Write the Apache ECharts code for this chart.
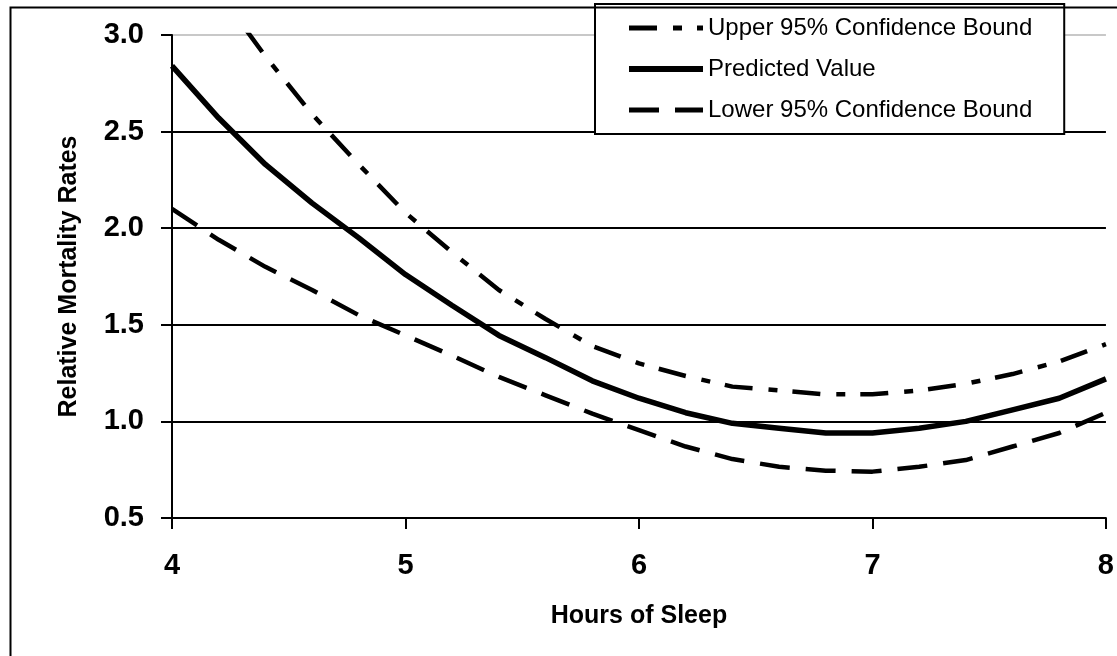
<!DOCTYPE html>
<html>
<head>
<meta charset="utf-8">
<script src="https://cdn.jsdelivr.net/npm/echarts@6/dist/echarts.min.js"></script>
<style>
  html, body { margin: 0; padding: 0; background: #fff; }
  #chart { width: 1117px; height: 656px; }
</style>
</head>
<body>
<div id="chart"></div>
<script>
// hours of sleep, sampled every 0.2 h
var hours = [4.0, 4.2, 4.4, 4.6, 4.8, 5.0, 5.2, 5.4, 5.6, 5.8, 6.0, 6.2, 6.4, 6.6, 6.8, 7.0, 7.2, 7.4, 7.6, 7.8, 8.0];
var upperBound = [3.62, 3.22, 2.89, 2.59, 2.33, 2.08, 1.875, 1.68, 1.53, 1.39, 1.30, 1.235, 1.18, 1.16, 1.14, 1.14, 1.16, 1.195, 1.245, 1.31, 1.40];
var predicted = [2.84, 2.57, 2.33, 2.13, 1.95, 1.76, 1.60, 1.445, 1.33, 1.21, 1.12, 1.045, 0.99, 0.965, 0.94, 0.94, 0.965, 1.00, 1.06, 1.12, 1.22];
var lowerBound = [2.10, 1.94, 1.80, 1.68, 1.55, 1.445, 1.34, 1.23, 1.135, 1.04, 0.955, 0.87, 0.805, 0.765, 0.745, 0.74, 0.765, 0.80, 0.87, 0.94, 1.045];
var seriesNames = ['Upper 95% Confidence Bound', 'Predicted Value', 'Lower 95% Confidence Bound'];
var xTicks = [4, 5, 6, 7, 8];
var yTicks = [0.5, 1.0, 1.5, 2.0, 2.5, 3.0];

var font = '"Liberation Sans", Arial, sans-serif';
var dashUpper = [28, 16, 9, 15];
var dashLower = [30, 16];

function pairs(values) {
    return hours.map(function (h, i) { return [h, values[i]]; });
}

var chart = echarts.init(document.getElementById('chart'));

var option = {
    backgroundColor: '#fff',
    animation: false,
    grid: { left: 172, right: 6, top: 35, bottom: 138, containLabel: false },
    graphic: [{
        type: 'rect',
        left: 8, top: 5,
        shape: { width: 1300, height: 900 },
        style: { fill: 'none', stroke: '#000', lineWidth: 2 },
        z: 100
    }],
    legend: {
        data: [
            { name: seriesNames[0], lineStyle: { width: 5, type: dashUpper, color: '#000' } },
            { name: seriesNames[1], lineStyle: { width: 6, type: 'solid', color: '#000' } },
            { name: seriesNames[2], lineStyle: { width: 5, type: dashLower, color: '#000' } }
        ],
        orient: 'vertical',
        left: 595, top: 4,
        padding: [12, 32, 12, 31],
        itemWidth: 74,
        itemHeight: 20,
        itemGap: 17,
        backgroundColor: '#fff',
        borderColor: '#000',
        borderWidth: 2,
        itemStyle: { opacity: 0 },
        textStyle: { fontFamily: font, fontSize: 24, lineHeight: 24, color: '#000' }
    },
    xAxis: {
        type: 'value',
        min: xTicks[0], max: xTicks[xTicks.length - 1], interval: 1,
        name: 'Hours of Sleep',
        nameLocation: 'middle',
        nameGap: 86,
        nameTextStyle: { fontFamily: font, fontSize: 25, fontWeight: 'bold', color: '#000' },
        axisLine: { lineStyle: { color: '#000', width: 2 } },
        axisTick: { inside: false, length: 11, lineStyle: { color: '#000', width: 2 } },
        axisLabel: { margin: 33, fontFamily: font, fontSize: 29, fontWeight: 'bold', color: '#000' },
        splitLine: { show: false }
    },
    yAxis: {
        type: 'value',
        min: yTicks[0], max: yTicks[yTicks.length - 1], interval: 0.5,
        name: 'Relative Mortality Rates',
        nameLocation: 'middle',
        nameGap: 90,
        nameTextStyle: { fontFamily: font, fontSize: 25, fontWeight: 'bold', color: '#000' },
        axisLine: { show: true, lineStyle: { color: '#000', width: 2 } },
        axisTick: { show: true, inside: false, length: 11, lineStyle: { color: '#000', width: 2 } },
        axisLabel: {
            margin: 28, fontFamily: font, fontSize: 29, fontWeight: 'bold', color: '#000',
            formatter: function (v) { return v.toFixed(1); }
        },
        splitLine: {
            show: true,
            lineStyle: { color: ['#000', '#000', '#000', '#000', '#000', '#c8c8c8'], width: 2 }
        }
    },
    series: [
        {
            name: seriesNames[0], type: 'line', data: pairs(upperBound),
            showSymbol: false, symbol: 'none', clip: true, color: '#000',
            lineStyle: { color: '#000', width: 4.5, type: dashUpper }
        },
        {
            name: seriesNames[1], type: 'line', data: pairs(predicted),
            showSymbol: false, symbol: 'none', clip: true, color: '#000',
            lineStyle: { color: '#000', width: 5.5 }
        },
        {
            name: seriesNames[2], type: 'line', data: pairs(lowerBound),
            showSymbol: false, symbol: 'none', clip: true, color: '#000',
            lineStyle: { color: '#000', width: 4.5, type: dashLower }
        }
    ]
};

chart.setOption(option);
</script>
</body>
</html>
